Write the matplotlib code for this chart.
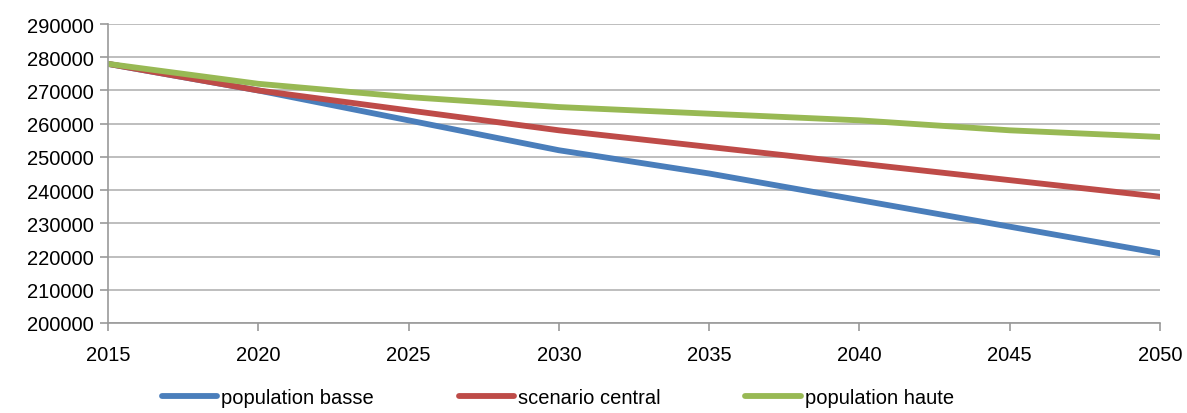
import matplotlib
matplotlib.use("Agg")
import matplotlib.pyplot as plt
from matplotlib import font_manager

years = [2015, 2020, 2025, 2030, 2035, 2040, 2045, 2050]
pop_basse = [278000, 270000, 261000, 252000, 245000, 237000, 229000, 221000]
scen_central = [278000, 270000, 264000, 258000, 253000, 248000, 243000, 238000]
pop_haute = [278000, 272000, 268000, 265000, 263000, 261000, 258000, 256000]

names = {f.name for f in font_manager.fontManager.ttflist}
fam = "Liberation Sans Narrow" if "Liberation Sans Narrow" in names else "Liberation Sans"
plt.rcParams["font.family"] = [fam, "DejaVu Sans"]
fs = 14.5

fig = plt.figure(figsize=(11.87, 4.14), dpi=100)
ax = fig.add_axes([108 / 1187, 90 / 414, 1052 / 1187, 299 / 414])

lw = 4.2
ax.plot(years, pop_basse, color="#4a7ebb", lw=lw, solid_capstyle="round", label="population basse")
ax.plot(years, scen_central, color="#be4b48", lw=lw, solid_capstyle="round", label="scenario central")
ax.plot(years, pop_haute, color="#98b954", lw=lw, solid_capstyle="round", label="population haute")

ax.set_xlim(2015, 2050)
ax.set_ylim(200000, 290000)
ax.set_xticks(range(2015, 2051, 5))
ax.set_yticks(range(200000, 290001, 10000))
ax.yaxis.grid(True, color="#b3b3b3", lw=1.2)
ax.set_axisbelow(True)
for s in ("top", "right"):
    ax.spines[s].set_visible(False)
for s in ("left", "bottom"):
    ax.spines[s].set_color("#999999")
    ax.spines[s].set_linewidth(1.2)
ax.tick_params(axis="both", colors="#999999", length=6, width=1.2, labelcolor="black", labelsize=fs)
ax.tick_params(axis="x", pad=10)
ax.tick_params(axis="y", pad=4)

fig.legend(loc="lower center", ncol=3, frameon=False, fontsize=fs,
           bbox_to_anchor=(0.47, -0.03), handlelength=2.75, columnspacing=4.2, handletextpad=0.2)

fig.savefig("out.png", dpi=100)
